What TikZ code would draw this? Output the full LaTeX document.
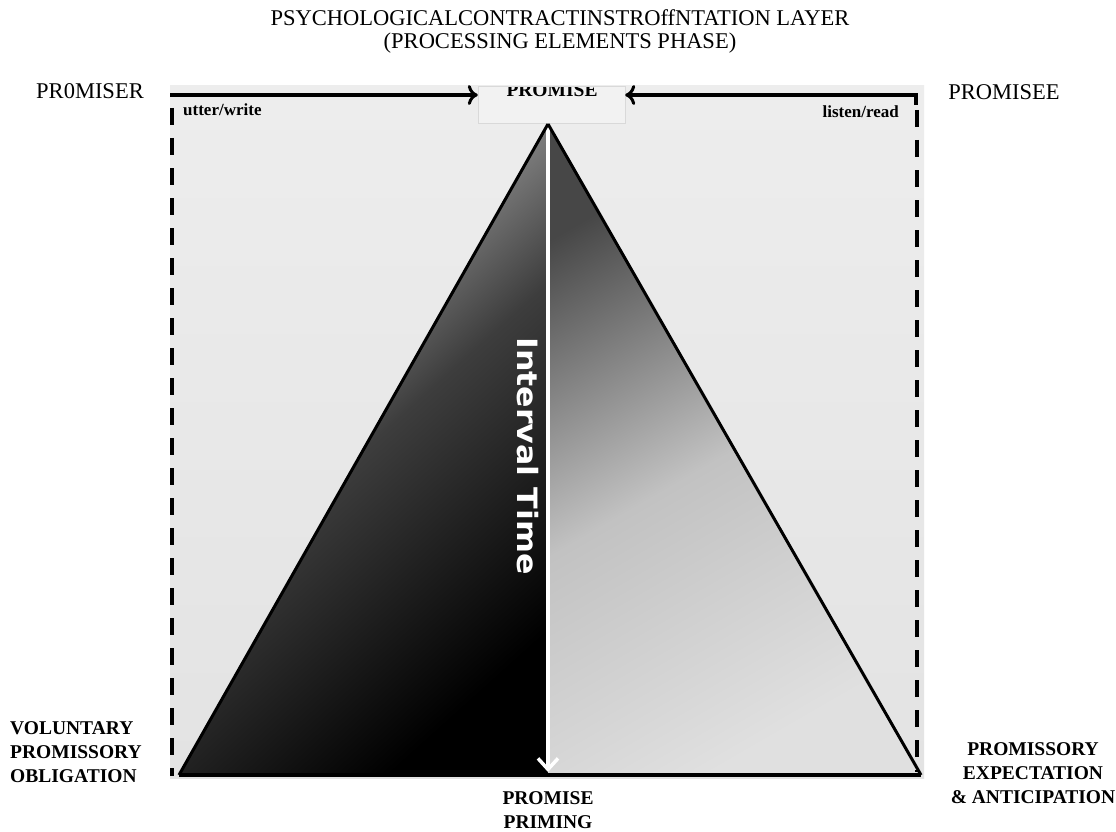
\documentclass[tikz,border=0pt]{standalone}
\usepackage{fontspec}
\setmainfont{Liberation Serif}
\newfontfamily\itfont{DejaVu Sans}
\usetikzlibrary{arrows.meta}
\begin{document}
\begin{tikzpicture}[x=1pt,y=-1pt,
  lbl/.style={font=\fontsize{22.5}{26}\selectfont, inner sep=0pt},
  blbl/.style={font=\fontsize{19.5}{24}\selectfont\bfseries, inner sep=0pt, align=center},
  small/.style={font=\fontsize{17}{19}\selectfont\bfseries, inner sep=0pt},
  dashline/.style={line width=4pt, dash pattern=on 17pt off 13pt},
  topline/.style={line width=3.5pt},
  edge/.style={line width=3pt, line join=round},
  bararrow/.style={-{Computer Modern Rightarrow[length=10pt,width=20pt,line width=3pt]}}
]
\useasboundingbox (0,0) rectangle (1116,832);
\fill[white] (0,0) rectangle (1116,832);
% photo background
\shade[top color=black!7, bottom color=black!11] (170,86) rectangle (924,778);
% titles
\node[lbl] (title) at (560,18) {PSYCHOLOGICALCONTRACTINSTROffNTATION LAYER};
\node[lbl] (title2) at (560,43) {(PROCESSING ELEMENTS PHASE)};
\node[lbl] (promiser) at (90,91) {PR0MISER};
\node[lbl] (promisee) at (1004,92) {PROMISEE};
% promise box
\node[draw=black!15, fill=black!5, minimum width=147pt, minimum height=37pt, inner sep=0pt] (promise) at (551.5,104.5) {};
\begin{scope}
\clip (170,87.5) rectangle (924,778);
\node[blbl, anchor=base] (promisetxt) at (552,97) {PROMISE};
\end{scope}
% triangle
\coordinate (apex) at (548,124);
\coordinate (bl) at (179,775);
\coordinate (br) at (921,775);
\coordinate (bm) at (548,775);
\coordinate (tip) at (548,772);
\shade[top color=black!20, bottom color=black, middle color=black!76, shading angle=42] (apex) -- (bl) -- (bm) -- cycle;
\shade[top color=black!72, bottom color=black!12, middle color=black!24, shading angle=30] (apex) -- (bm) -- (br) -- cycle;
\draw[white, line width=3.5pt, -{Straight Barb[length=11pt,width=20pt,line width=3.5pt]}] (apex) -- (tip);
\node[rotate=-90, text=white, font=\itfont\bfseries\fontsize{28}{30}\selectfont, inner sep=0pt] (itime) at (528,456) {\scalebox{1.13}[1]{Interval Time}};
\draw[edge] (apex) -- (bl);
\draw[edge] (apex) -- (br);
\draw[line width=3.5pt] (bl) -- (br);
% dashed sides
\coordinate (lt) at (172,108);
\coordinate (lb) at (172,776);
\coordinate (rt) at (917,110);
\coordinate (rb) at (917,772);
\draw[dashline] (lt) -- (lb);
\draw[dashline] (rt) -- (rb);
% top arrows
\coordinate (tl) at (170,95);
\coordinate (tr) at (916,105);
\draw[topline, bararrow] (tl) -- (promise.west |- tl);
\draw[topline, bararrow] (tr) |- (promise.east |- tl);
\node[small, anchor=base west] (utter) at (183,116) {utter/write};
\node[small, anchor=base east] (listen) at (899,118) {listen/read};
% bottom labels
\node[blbl, align=left, anchor=west] (vpo) at (10,752) {VOLUNTARY\\PROMISSORY\\OBLIGATION};
\node[blbl] (pp) at (548,810) {PROMISE\\PRIMING};
\node[blbl] (pea) at (1033,773) {PROMISSORY\\EXPECTATION\\\& ANTICIPATION};
\end{tikzpicture}
\end{document}
